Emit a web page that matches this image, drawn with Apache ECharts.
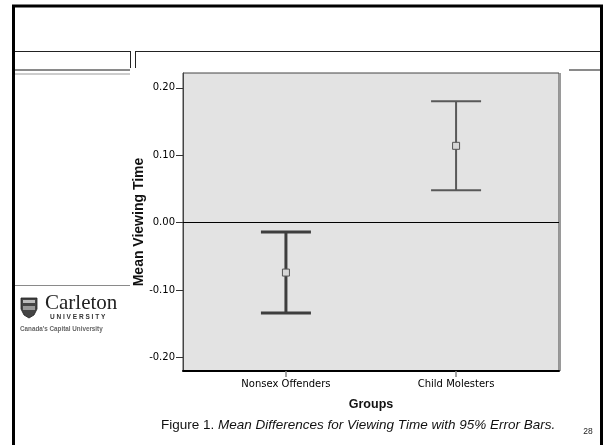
<!DOCTYPE html>
<html>
<head>
<meta charset="utf-8">
<script src="https://cdn.jsdelivr.net/npm/echarts@6/dist/echarts.min.js"></script>
<style>
html,body{margin:0;padding:0;background:#fff;}
#c{width:604px;height:445px;}
</style>
</head>
<body>
<div id="c"></div>
<script>
// ---- data ----
const categories = ['Nonsex Offenders', 'Child Molesters'];
const lowerCI = [-0.134, 0.048];
const means = [-0.074, 0.114];
const upperCI = [-0.014, 0.180];
const yTickValues = [-0.2, -0.1, 0, 0.1, 0.2];
const xTickValues = [0, 1];

const errData = categories.map((c, i) => [i, lowerCI[i], means[i], upperCI[i]]);

const chart = echarts.init(document.getElementById('c'), null, {renderer: 'canvas'});

const barWidths = [3, 2];
const barColors = ['#3e3e3e', '#595959'];

function renderItem(params, api) {
  const i = params.dataIndex;
  const x = api.value(0);
  const pLo = api.coord([x, api.value(1)]);
  const pM = api.coord([x, api.value(2)]);
  const pHi = api.coord([x, api.value(3)]);
  const half = 25, sq = 3.5;
  const st = {stroke: barColors[i], lineWidth: barWidths[i]};
  return {
    type: 'group',
    children: [
      {type: 'line', shape: {x1: pHi[0], y1: pHi[1], x2: pLo[0], y2: pLo[1]}, style: st},
      {type: 'line', shape: {x1: pHi[0] - half, y1: pHi[1], x2: pHi[0] + half, y2: pHi[1]}, style: st},
      {type: 'line', shape: {x1: pLo[0] - half, y1: pLo[1], x2: pLo[0] + half, y2: pLo[1]}, style: st},
      {type: 'rect', shape: {x: pM[0] - sq, y: pM[1] - sq, width: 2 * sq, height: 2 * sq},
        style: {fill: '#d6d6d6', stroke: '#555', lineWidth: 1}}
    ]
  };
}

const axisFont = 'DejaVu Sans';

const option = {
  animation: false,
  backgroundColor: '#fff',
  grid: {
    left: 183, top: 73, right: 45, bottom: 74,
    show: true, backgroundColor: '#e3e3e3', borderColor: '#444', borderWidth: 1
  },
  xAxis: {
    type: 'value', min: -0.605, max: 1.605,
    name: 'Groups', nameLocation: 'middle', nameGap: 27, nameMoveOverlap: false,
    nameTextStyle: {fontFamily: 'Liberation Sans', fontWeight: 'bold', fontSize: 12.5, color: '#111'},
    axisLine: {show: true, onZero: false, lineStyle: {color: '#000', width: 2}},
    axisTick: {show: true, customValues: xTickValues, length: 6, lineStyle: {color: '#888', width: 1.5}},
    axisLabel: {customValues: xTickValues, formatter: v => categories[Math.round(v)],
      fontFamily: axisFont, fontSize: 10, color: '#000', margin: 8},
    splitLine: {show: false}
  },
  yAxis: {
    type: 'value', min: -0.22, max: 0.222,
    name: 'Mean Viewing Time', nameLocation: 'middle', nameGap: 37, nameRotate: 90, nameMoveOverlap: false,
    nameTextStyle: {fontFamily: 'Liberation Sans', fontWeight: 'bold', fontSize: 14, color: '#111'},
    axisLine: {show: true, onZero: false, lineStyle: {color: '#444', width: 1}},
    axisTick: {show: true, customValues: yTickValues, length: 7, lineStyle: {color: '#333', width: 1}},
    axisLabel: {customValues: yTickValues, formatter: v => v.toFixed(2),
      fontFamily: axisFont, fontSize: 10, color: '#000', margin: 8},
    splitLine: {show: false}
  },
  series: [{
    type: 'custom',
    renderItem: renderItem,
    data: errData,
    z: 5,
    markLine: {
      silent: true, symbol: ['none', 'none'],
      label: {show: false},
      lineStyle: {color: '#000', width: 1, type: 'solid'},
      data: [{yAxis: 0}]
    }
  }],
  graphic: [
    // slide frame
    {type: 'rect', shape: {x: 13.5, y: 6, width: 588, height: 460}, style: {fill: 'none', stroke: '#000', lineWidth: 3}, z: 10},
    {type: 'line', shape: {x1: 15, y1: 51.5, x2: 130, y2: 51.5}, style: {stroke: '#222', lineWidth: 1}},
    {type: 'line', shape: {x1: 135, y1: 51.5, x2: 600, y2: 51.5}, style: {stroke: '#222', lineWidth: 1}},
    {type: 'line', shape: {x1: 130.5, y1: 51, x2: 130.5, y2: 68}, style: {stroke: '#222', lineWidth: 1}},
    {type: 'line', shape: {x1: 135.5, y1: 51, x2: 135.5, y2: 68}, style: {stroke: '#222', lineWidth: 1}},
    {type: 'line', shape: {x1: 15, y1: 70, x2: 130, y2: 70}, style: {stroke: '#8a8a8a', lineWidth: 2}},
    {type: 'line', shape: {x1: 15, y1: 74, x2: 130, y2: 74}, style: {stroke: '#9a9a9a', lineWidth: 1}},
    {type: 'line', shape: {x1: 569, y1: 70, x2: 600, y2: 70}, style: {stroke: '#8a8a8a', lineWidth: 2}},
    {type: 'line', shape: {x1: 15, y1: 285.5, x2: 130, y2: 285.5}, style: {stroke: '#8a8a8a', lineWidth: 1}},
    // plot right shadow
    {type: 'line', shape: {x1: 560, y1: 73, x2: 560, y2: 371}, style: {stroke: '#9a9a9a', lineWidth: 2}},
    // Carleton logo
    {type: 'polygon', shape: {points: [[21, 298], [37, 298], [37, 309], [34, 315], [29, 318], [24, 315], [21, 309]]},
      style: {fill: '#444', stroke: '#222', lineWidth: 0.8}},
    {type: 'rect', shape: {x: 23, y: 300, width: 12, height: 3}, style: {fill: '#bbb'}},
    {type: 'rect', shape: {x: 23, y: 306, width: 12, height: 4}, style: {fill: '#999'}},
    {type: 'text', style: {x: 45, y: 314, text: 'Carleton', fontFamily: 'Liberation Serif', fontSize: 21,
      fill: '#222', textVerticalAlign: 'bottom'}},
    {type: 'text', style: {x: 50, y: 321, text: 'U N I V E R S I T Y', fontFamily: 'Liberation Sans', fontWeight: 'bold',
      fontSize: 6.5, fill: '#333', textVerticalAlign: 'bottom'}},
    {type: 'text', style: {x: 20, y: 332, text: "Canada's Capital University", fontFamily: 'Liberation Sans', fontWeight: 'bold',
      fontSize: 6.3, fill: '#666', textVerticalAlign: 'bottom'}},
    // caption
    {type: 'text', style: {x: 161, y: 425, textAlign: 'left', textVerticalAlign: 'middle',
      text: '{n|Figure 1. }{i|Mean Differences for Viewing Time with 95% Error Bars.}',
      rich: {
        n: {fontFamily: 'Liberation Sans', fontSize: 13.5, fill: '#111'},
        i: {fontFamily: 'Liberation Sans', fontSize: 13.5, fontStyle: 'italic', fill: '#111'}
      }}},
    {type: 'text', style: {x: 588, y: 432, textAlign: 'center', textVerticalAlign: 'middle', text: '28',
      fontFamily: 'Liberation Sans', fontSize: 8.5, fill: '#222'}}
  ]
};

chart.setOption(option);
</script>
</body>
</html>
